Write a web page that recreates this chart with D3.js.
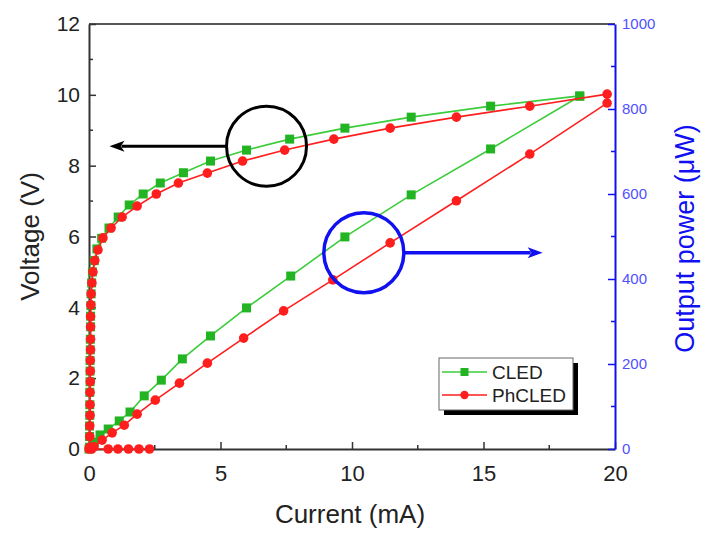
<!DOCTYPE html>
<html>
<head>
<meta charset="utf-8">
<script src="https://cdn.jsdelivr.net/npm/d3@7"></script>
<style>
  body { margin: 0; background: #fff; }
  svg { display: block; font-family: "Liberation Sans", Arial, sans-serif; }
</style>
</head>
<body>
<div id="chart"></div>
<script>
"use strict";

// [current mA, voltage V]
const cledIV = [
  [0.02, 0.05], [0.02, 0.35], [0.02, 0.65], [0.03, 0.95], [0.03, 1.25], [0.03, 1.6],
  [0.04, 1.9], [0.04, 2.2], [0.04, 2.5], [0.05, 2.8], [0.05, 3.1], [0.06, 3.45],
  [0.06, 3.75], [0.07, 4.05], [0.08, 4.38], [0.1, 4.69], [0.13, 5.0], [0.2, 5.32],
  [0.3, 5.65], [0.48, 5.95], [0.76, 6.24], [1.11, 6.55], [1.53, 6.89], [2.06, 7.2],
  [2.71, 7.51], [3.59, 7.8], [4.62, 8.13], [5.99, 8.44], [7.63, 8.75], [9.73, 9.06],
  [12.25, 9.37], [15.27, 9.68], [18.66, 9.97]
];
const phcledIV = [
  [0.03, 0.05], [0.03, 0.35], [0.03, 0.65], [0.04, 0.95], [0.04, 1.25], [0.04, 1.6],
  [0.05, 1.9], [0.05, 2.2], [0.05, 2.5], [0.06, 2.8], [0.06, 3.1], [0.06, 3.45],
  [0.06, 3.74], [0.07, 4.07], [0.08, 4.38], [0.11, 4.69], [0.15, 5.0], [0.22, 5.32],
  [0.34, 5.62], [0.53, 5.96], [0.84, 6.24], [1.26, 6.55], [1.83, 6.86], [2.56, 7.2],
  [3.4, 7.51], [4.5, 7.79], [5.84, 8.13], [7.44, 8.44], [9.31, 8.75], [11.45, 9.06],
  [13.97, 9.37], [16.76, 9.68], [19.7, 10.02]
];
// [current mA, output power µW]
const cledPower = [
  [0, 0], [0.2, 16], [0.42, 33], [0.73, 47], [1.15, 66], [1.56, 87], [2.1, 125],
  [2.75, 162], [3.55, 212], [4.62, 266], [5.99, 332], [7.67, 407], [9.73, 499],
  [12.25, 598], [15.27, 706], [18.66, 830]
];
const phcledPower = [
  [0, 0], [0.19, 5], [0.5, 21], [0.88, 38], [1.34, 56], [1.83, 82], [2.52, 115],
  [3.44, 155], [4.5, 202], [5.88, 261], [7.4, 325], [9.27, 398], [11.45, 485],
  [13.97, 584], [16.76, 694], [19.7, 814]
];
const phcledPowerZero = [[0.1, 0], [0.73, 0], [1.1, 0], [1.5, 0], [1.9, 0], [2.3, 0]];

const xTicks = [0, 5, 10, 15, 20];
const xMinor = [2.5, 7.5, 12.5, 17.5];
const vTicks = [0, 2, 4, 6, 8, 10, 12];
const vMinor = [1, 3, 5, 7, 9, 11];
const pTicks = [0, 200, 400, 600, 800, 1000];
const pMinor = [100, 300, 500, 700, 900];
const seriesNames = ["CLED", "PhCLED"];

const W = 703, H = 534;
const m = { left: 89, right: 615, top: 24, bottom: 449 };
const green = "#22b422", greenLine = "#3ccc3c", red = "#ff1e1e", blue = "#1010f0";

const svg = d3.select("#chart").append("svg").attr("width", W).attr("height", H);
svg.append("rect").attr("width", W).attr("height", H).attr("fill", "#fff");

const x = d3.scaleLinear().domain([0, 20]).range([m.left, m.right]);
const yV = d3.scaleLinear().domain([0, 12]).range([m.bottom, m.top]);
const yP = d3.scaleLinear().domain([0, 1000]).range([m.bottom, m.top]);

// top frame line
svg.append("line").attr("x1", m.left).attr("x2", m.right).attr("y1", m.top).attr("y2", m.top)
  .attr("stroke", "#555").attr("stroke-width", 2);

function drawAxis(axis, tr, color, fontSize) {
  const g = svg.append("g").attr("transform", tr).call(axis);
  g.select(".domain").attr("stroke", color).attr("stroke-width", 2);
  g.selectAll(".tick line").attr("stroke", color).attr("stroke-width", 1.5);
  g.selectAll(".tick text").attr("fill", color).attr("font-size", fontSize)
    .attr("font-family", "Liberation Sans, Arial, sans-serif");
  return g;
}

const bottomAxis = d3.axisBottom(x).tickValues(xTicks).tickFormat(d3.format("d"))
  .tickSizeInner(-7).tickSizeOuter(0).tickPadding(16);
const gx = drawAxis(bottomAxis, `translate(0,${m.bottom})`, "#333", "22px");
gx.selectAll(".tick text").attr("fill", "#222");
gx.selectAll(".minor").data(xMinor).enter().append("line")
  .attr("x1", d => x(d)).attr("x2", d => x(d)).attr("y1", 0).attr("y2", -4)
  .attr("stroke", "#333").attr("stroke-width", 1.5);

const leftAxis = d3.axisLeft(yV).tickValues(vTicks).tickFormat(d3.format("d"))
  .tickSizeInner(-7).tickSizeOuter(0).tickPadding(9);
const gy = drawAxis(leftAxis, `translate(${m.left},0)`, "#333", "21px");
gy.selectAll(".tick text").attr("fill", "#222");
gy.selectAll(".minor").data(vMinor).enter().append("line")
  .attr("y1", d => yV(d)).attr("y2", d => yV(d)).attr("x1", 0).attr("x2", 4)
  .attr("stroke", "#333").attr("stroke-width", 1.5);

const rightAxis = d3.axisRight(yP).tickValues(pTicks).tickFormat(d3.format("d"))
  .tickSizeInner(-7).tickSizeOuter(0).tickPadding(7);
const gp = drawAxis(rightAxis, `translate(${m.right},0)`, blue, "15px");
gp.selectAll(".tick text").attr("fill", "#5050ff");
gp.selectAll(".minor").data(pMinor).enter().append("line")
  .attr("y1", d => yP(d)).attr("y2", d => yP(d)).attr("x1", 0).attr("x2", -4)
  .attr("stroke", blue).attr("stroke-width", 1.5);

// axis titles
svg.append("text").attr("x", (m.left + m.right) / 2 - 2).attr("y", 523)
  .attr("text-anchor", "middle").attr("font-size", "26px").attr("fill", "#222")
  .text("Current (mA)");
svg.append("text").attr("transform", `translate(39,${(m.top + m.bottom) / 2}) rotate(-90)`)
  .attr("text-anchor", "middle").attr("font-size", "26px").attr("fill", "#222")
  .text("Voltage (V)");
svg.append("text").attr("transform", `translate(694,${(m.top + m.bottom) / 2 + 2}) rotate(-90)`)
  .attr("text-anchor", "middle").attr("font-size", "27px").attr("fill", blue)
  .text("Output power (μW)");

// series
function drawSeries(data, yScale, lineColor, markColor, shape) {
  const line = d3.line().x(d => x(d[0])).y(d => yScale(d[1]));
  svg.append("path").datum(data).attr("d", line)
    .attr("fill", "none").attr("stroke", lineColor).attr("stroke-width", 1.6);
  const g = svg.append("g");
  if (shape === "square") {
    g.selectAll("rect").data(data).enter().append("rect")
      .attr("x", d => x(d[0]) - 4.5).attr("y", d => yScale(d[1]) - 4.5)
      .attr("width", 9).attr("height", 9).attr("fill", markColor);
  } else {
    g.selectAll("circle").data(data).enter().append("circle")
      .attr("cx", d => x(d[0])).attr("cy", d => yScale(d[1])).attr("r", 4.8)
      .attr("fill", markColor);
  }
}

drawSeries(cledPower, yP, greenLine, green, "square");
drawSeries(cledIV, yV, greenLine, green, "square");
drawSeries(phcledPowerZero, yP, red, red, "circle");
drawSeries(phcledPower, yP, red, red, "circle");
drawSeries(phcledIV, yV, red, red, "circle");

// annotations: circles with arrows pointing to the matching axis
function arrowAnno(cx, cy, r, tipX, color, width, head) {
  svg.append("circle").attr("cx", cx).attr("cy", cy).attr("r", r)
    .attr("fill", "none").attr("stroke", color).attr("stroke-width", width);
  const dir = tipX < cx ? -1 : 1;
  const start = cx + dir * r;
  svg.append("line").attr("x1", start).attr("x2", tipX - dir * head * 0.8)
    .attr("y1", cy).attr("y2", cy).attr("stroke", color).attr("stroke-width", width);
  svg.append("path")
    .attr("d", `M${tipX},${cy} L${tipX - dir * head},${cy - 5.5} L${tipX - dir * head * 0.75},${cy} L${tipX - dir * head},${cy + 5.5} Z`)
    .attr("fill", color);
}
arrowAnno(x(6.75), yV(8.55), 40, x(0.78), "#000", 3, 15);
arrowAnno(x(10.45), yP(462), 40, x(17.25), blue, 3.5, 15);

// legend
const lg = svg.append("g").attr("transform", "translate(439,358)");
lg.append("rect").attr("x", 5).attr("y", 5).attr("width", 134).attr("height", 52).attr("fill", "#000");
lg.append("rect").attr("x", 0).attr("y", 0).attr("width", 134).attr("height", 52)
  .attr("fill", "#fff").attr("stroke", "#666").attr("stroke-width", 1);
const legendColors = [[greenLine, green, "square"], [red, red, "circle"]];
seriesNames.forEach((name, i) => {
  const yy = 14 + i * 23;
  const [lc, mc, shape] = legendColors[i];
  lg.append("line").attr("x1", 3).attr("x2", 48).attr("y1", yy).attr("y2", yy)
    .attr("stroke", lc).attr("stroke-width", 1.6);
  if (shape === "square") {
    lg.append("rect").attr("x", 21.5).attr("y", yy - 4).attr("width", 8).attr("height", 8).attr("fill", mc);
  } else {
    lg.append("circle").attr("cx", 25.5).attr("cy", yy).attr("r", 4.2).attr("fill", mc);
  }
  lg.append("text").attr("x", 53).attr("y", yy + 7).attr("font-size", "19px")
    .attr("fill", "#222").text(name);
});
</script>
</body>
</html>
